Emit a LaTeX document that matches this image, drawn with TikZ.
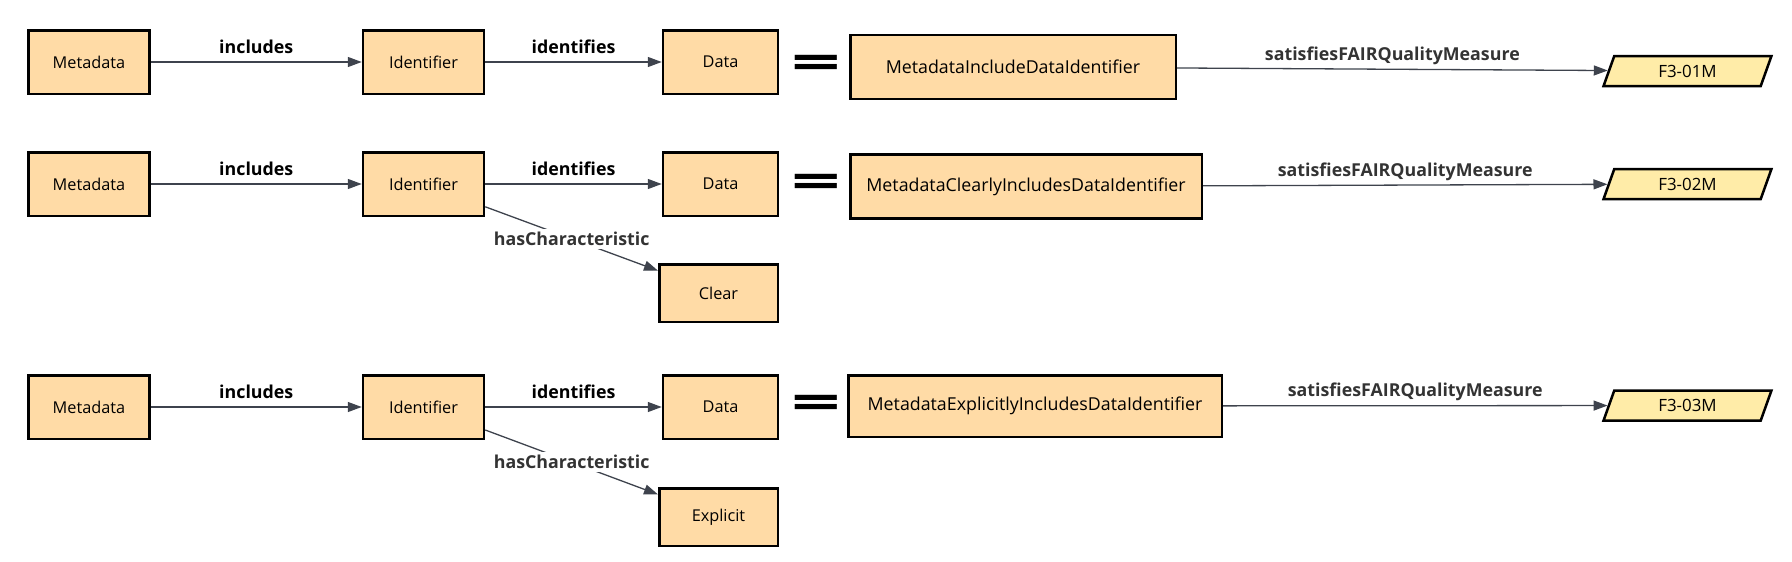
\documentclass[tikz,border=0pt]{standalone}
\usepackage{fontspec}
\setmainfont{Open Sans}
\usetikzlibrary{shapes.geometric,arrows.meta}

\definecolor{boxfill}{RGB}{255,219,166}
\definecolor{measfill}{RGB}{255,236,168}
\definecolor{edgegray}{RGB}{62,67,77}
\definecolor{lblgray}{RGB}{51,51,51}

\begin{document}
\begin{tikzpicture}[x=1pt,y=-1pt,
  box/.style={rectangle,draw=black,line width=2.5pt,fill=boxfill,
              minimum width=121pt,minimum height=63.5pt,
              font=\fontsize{16.3}{19}\selectfont},
  cls/.style={box,minimum height=64pt,font=\fontsize{17.8}{21}\selectfont},
  meas/.style={trapezium,trapezium left angle=76,trapezium right angle=104,
               trapezium stretches=true,draw=black,line width=2.5pt,fill=measfill,
               minimum width=168pt,minimum height=30pt,
               font=\fontsize{16.9}{20}\selectfont},
  eq/.style={font=\fontsize{62}{62}\selectfont\bfseries,inner sep=0pt},
  arr/.style={-{Triangle[length=14pt,width=10pt]},line width=1.3pt,draw=edgegray},
  rel/.style={font=\fontsize{17.8}{21}\selectfont\bfseries,anchor=base,yshift=9pt},
  note/.style={rel,text=lblgray},
  tag/.style={font=\fontsize{17.8}{21}\selectfont\bfseries,text=lblgray,fill=white}]
\useasboundingbox (0,0) rectangle (1792,562);
%%
%% Row 1: include
\node[box](meta1)  at (89,62)      {Metadata};
\node[box](ident1) at (423.5,62)   {Identifier};
\node[box,minimum width=115pt](data1) at (720.5,62) {Data};
\node[eq](eq1)     at (816,67)     {\scalebox{1.4}[0.78]{=}};
\node[cls,minimum width=325.5pt](cls1) at (1013,67) {MetadataIncludeDataIdentifier};
\node[meas](meas1) at (1687.5,71)  {F3-01M};
\draw[arr](meta1) -- node[rel]{includes} (ident1);
\draw[arr](ident1) -- node[rel]{identifies} (data1);
\draw[arr](cls1) -- node[note]{satisfiesFAIRQualityMeasure} (meas1);
%%
%% Row 2: clearly include
\node[box](meta2)  at (89,184)     {Metadata};
\node[box](ident2) at (423.5,184)  {Identifier};
\node[box,minimum width=115pt](data2) at (720.5,184) {Data};
\node[box,minimum width=118.5pt,minimum height=57.5pt](clear2) at (718.5,293) {Clear};
\node[eq](eq2)     at (816,186)    {\scalebox{1.4}[0.78]{=}};
\node[cls,minimum width=351.5pt](cls2) at (1026,186.5) {MetadataClearlyIncludesDataIdentifier};
\node[meas](meas2) at (1687.5,184) {F3-02M};
\draw[arr](meta2) -- node[rel]{includes} (ident2);
\draw[arr](ident2) -- node[rel]{identifies} (data2);
\draw[arr](ident2) -- node[tag]{hasCharacteristic} (clear2);
\draw[arr](cls2) -- node[note]{satisfiesFAIRQualityMeasure} (meas2);
%%
%% Row 3: explicitly include
\node[box](meta3)  at (89,407)     {Metadata};
\node[box](ident3) at (423.5,407)  {Identifier};
\node[box,minimum width=115pt](data3) at (720.5,407) {Data};
\node[box,minimum width=118.5pt,minimum height=57.5pt](expl3) at (718.5,517) {Explicit};
\node[eq](eq3)     at (816,407)    {\scalebox{1.4}[0.78]{=}};
\node[cls,minimum width=373.5pt,minimum height=61.5pt](cls3) at (1035,406) {MetadataExplicitlyIncludesDataIdentifier};
\node[meas](meas3) at (1687.5,405.5) {F3-03M};
\draw[arr](meta3) -- node[rel]{includes} (ident3);
\draw[arr](ident3) -- node[rel]{identifies} (data3);
\draw[arr](ident3) -- node[tag]{hasCharacteristic} (expl3);
\draw[arr](cls3) -- node[note]{satisfiesFAIRQualityMeasure} (meas3);
\end{tikzpicture}
\end{document}
